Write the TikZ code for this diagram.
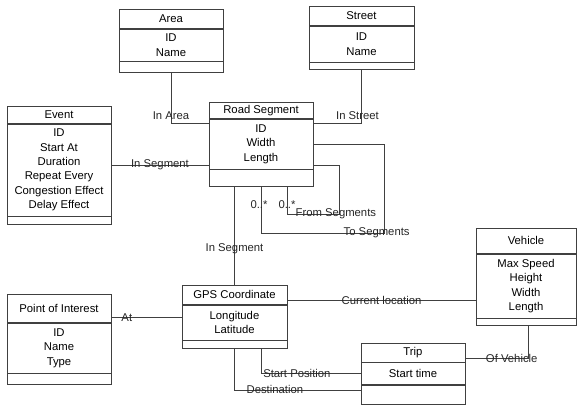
\documentclass[tikz,border=0pt]{standalone}
\usepackage{fontspec}
\setmainfont{Liberation Sans}
\usetikzlibrary{positioning}
\begin{document}
\begin{tikzpicture}[
    x=1pt, y=1pt,
    cls/.style={rectangle, draw=black!75, line width=0.7pt, minimum width=104pt, inner sep=0pt, align=center, font=\fontsize{11.3}{14.4}\selectfont},
    line/.style={draw=black!75, line width=0.7pt},
    lbl/.style={font=\fontsize{11.3}{13}\selectfont, inner sep=0pt, text=black!85}
]
\useasboundingbox (0,0) rectangle (577,405);

\node[cls, minimum height=19pt, anchor=north] (area) at (171,396) {Area};
\node[cls, minimum height=32pt, below=0pt of area] (area-attr) {ID\\Name};
\node[cls, minimum height=11pt, below=0pt of area-attr] (area-op) {};

\node[cls, minimum width=105pt, minimum height=19pt, anchor=north] (street) at (361.5,399) {Street};
\node[cls, minimum width=105pt, minimum height=36pt, below=0pt of street] (street-attr) {ID\\Name};
\node[cls, minimum width=105pt, minimum height=7pt, below=0pt of street-attr] (street-op) {};

\node[cls, minimum height=17pt, anchor=north] (event) at (59,299) {Event};
\node[cls, minimum height=92pt, below=0pt of event] (event-attr) {ID\\Start At\\Duration\\Repeat Every\\Congestion Effect\\Delay Effect};
\node[cls, minimum height=8pt, below=0pt of event-attr] (event-op) {};

\node[cls, minimum height=16pt, anchor=north] (rs) at (261,303) {Road Segment};
\node[cls, minimum height=50pt, below=0pt of rs] (rs-attr) {ID\\Width\\Length};
\node[cls, minimum height=17pt, below=0pt of rs-attr] (rs-op) {};

\node[cls, minimum width=105pt, minimum height=19pt, anchor=north] (gps) at (234.5,120) {GPS Coordinate};
\node[cls, minimum width=105pt, minimum height=35pt, below=0pt of gps] (gps-attr) {Longitude\\Latitude};
\node[cls, minimum width=105pt, minimum height=8pt, below=0pt of gps-attr] (gps-op) {};

\node[cls, minimum height=28pt, anchor=north] (poi) at (59,111) {Point of Interest};
\node[cls, minimum height=50pt, below=0pt of poi] (poi-attr) {ID\\Name\\Type};
\node[cls, minimum height=11pt, below=0pt of poi-attr] (poi-op) {};

\node[cls, minimum width=100pt, minimum height=25pt, anchor=north] (vehicle) at (526,177) {Vehicle};
\node[cls, minimum width=100pt, minimum height=64pt, below=0pt of vehicle] (vehicle-attr) {Max Speed\\Height\\Width\\Length};
\node[cls, minimum width=100pt, minimum height=7pt, below=0pt of vehicle-attr] (vehicle-op) {};

\node[cls, minimum height=19pt, anchor=north] (trip) at (413,62.5) {Trip};
\node[cls, minimum height=22pt, below=0pt of trip] (trip-attr) {Start time};
\node[cls, minimum height=19.5pt, below=0pt of trip-attr] (trip-op) {};

\draw[line] (area-op.south) |- node[lbl, pos=0.42] {In Area} ([yshift=-5pt]rs-attr.north west);
\draw[line] (street-op.south) |- node[lbl, pos=0.42, xshift=-4pt] {In Street} ([yshift=-5pt]rs-attr.north east);
\draw[line] ([yshift=5pt]event-attr.east) -- node[lbl] {In Segment} ([yshift=5pt]event-attr.east -| rs-attr.west);
\draw[line] ([xshift=26pt]rs-op.south) -- node[lbl, pos=0.63] {0..*} ++(0,-27) -- node[lbl, pos=0.94] {From Segments} ++(52,0) |- ([yshift=4pt]rs-attr.south east);
\draw[line] (rs-op.south) -- node[lbl, pos=0.37, xshift=-2pt] {0..*} ++(0,-46) -- node[lbl, pos=0.94] {To Segments} ++(123,0) |- (rs-attr.east);
\draw[line] (gps.north) -- node[lbl, pos=0.37] {In Segment} (gps.north |- rs-op.south);
\draw[line] ([yshift=5pt]poi.south east) -- node[lbl, pos=0.22] {At} ([yshift=5pt]poi.south east -| gps-attr.west);
\draw[line] ([yshift=4pt]gps.south east) -- node[lbl] {Current location} ([yshift=4pt]gps.south east -| vehicle-attr.west);
\draw[line] ([yshift=4pt]trip.south east) -| node[lbl, pos=0.37] {Of Vehicle} ([xshift=2pt]vehicle-op.south);
\draw[line] ([xshift=26.5pt]gps-op.south) |- node[lbl, pos=0.68] {Start Position} (trip-attr.west);
\draw[line] (gps-op.south) |- node[lbl, pos=0.66] {Destination} ([yshift=-5pt]trip-op.north west);
\end{tikzpicture}
\end{document}
